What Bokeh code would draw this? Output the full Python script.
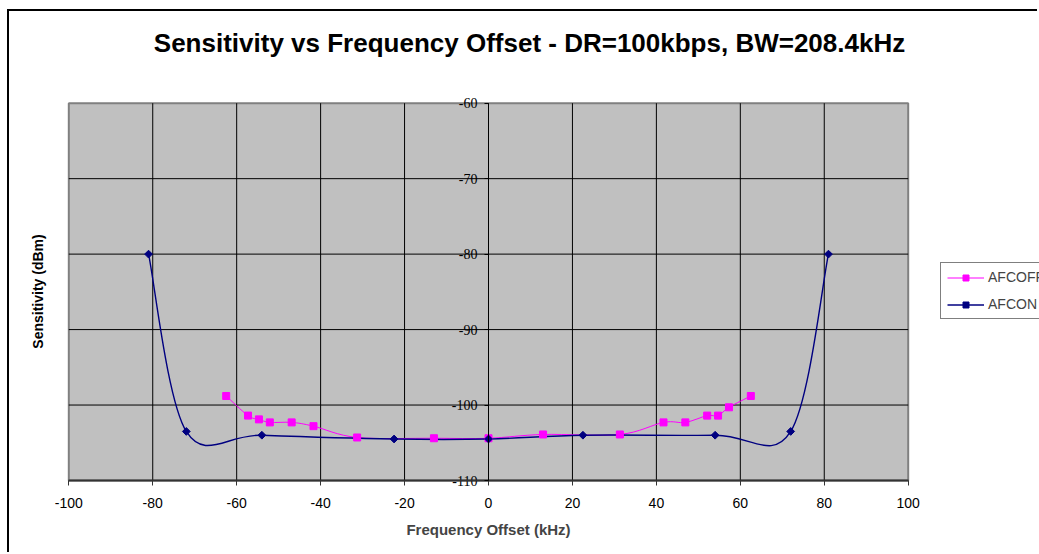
import numpy as np
from bokeh.plotting import figure
from bokeh.models import (FixedTicker, Legend, LegendItem, Label, Range1d,
                          ColumnDataSource)
from bokeh.embed import file_html
from bokeh.resources import INLINE

# ---- data ----
title_text = "Sensitivity vs Frequency Offset - DR=100kbps, BW=208.4kHz"
x_label = "Frequency Offset (kHz)"
y_label = "Sensitivity (dBm)"

afcoff_x = [-62.5, -57.3, -54.7, -52.1, -46.9, -41.7, -31.3, -13.0, 0.0,
            13.0, 31.3, 41.7, 46.9, 52.1, 54.7, 57.3, 62.5]
afcoff_y = [-98.8, -101.4, -101.9, -102.3, -102.3, -102.8, -104.3, -104.4, -104.4,
            -103.9, -103.9, -102.3, -102.3, -101.4, -101.4, -100.3, -98.8]

afcon_x = [-81.0, -72.0, -54.0, -22.5, 0.0, 22.5, 54.0, 72.0, 81.0]
afcon_y = [-80.0, -103.5, -104.0, -104.5, -104.5, -104.0, -104.0, -103.5, -80.0]

x_ticks = [-100, -80, -60, -40, -20, 0, 20, 40, 60, 80, 100]
y_ticks = [-110, -100, -90, -80, -70, -60]


def smooth_source(xs, ys):
    """Bezier segments (Excel-like smoothed line) through the data points."""
    xs = np.asarray(xs, float)
    ys = np.asarray(ys, float)
    n = len(xs)
    px = np.concatenate([[xs[0]], xs, [xs[-1]]])
    py = np.concatenate([[ys[0]], ys, [ys[-1]]])
    return ColumnDataSource(dict(
        x0=xs[:-1], y0=ys[:-1], x1=xs[1:], y1=ys[1:],
        cx0=xs[:-1] + (px[2:n + 1] - px[0:n - 1]) / 6.0,
        cy0=ys[:-1] + (py[2:n + 1] - py[0:n - 1]) / 6.0,
        cx1=xs[1:] - (px[3:n + 2] - px[1:n]) / 6.0,
        cy1=ys[1:] - (py[3:n + 2] - py[1:n]) / 6.0,
    ))


FONT = "Liberation Sans"
W, H = 1030, 543

# plot-area placement inside the canvas (pixels)
PA_LEFT, PA_RIGHT, PA_TOP, PA_BOTTOM = 59.3, 898.7, 91.7, 469.0
x0d, x1d = x_ticks[0], x_ticks[-1]
y0d, y1d = y_ticks[0], y_ticks[-1]
sx = (PA_RIGHT - PA_LEFT) / (x1d - x0d)
sy = (PA_BOTTOM - PA_TOP) / (y1d - y0d)
x_range = Range1d(x0d - PA_LEFT / sx, x1d + (W - PA_RIGHT) / sx)
y_range = Range1d(y0d - (H - PA_BOTTOM) / sy, y1d + PA_TOP / sy)

p = figure(width=W, height=H, output_backend="svg", toolbar_location=None,
           x_range=x_range, y_range=y_range,
           min_border_left=0, min_border_right=0,
           min_border_top=0, min_border_bottom=0)
p.styles = {"margin-top": "9px", "margin-left": "7px",
            "border-left": "2px solid black", "border-top": "2px solid black"}

p.background_fill_color = "white"
p.border_fill_color = "white"
p.outline_line_color = None
p.grid.visible = False

# grey plot area
p.quad(left=[x0d], right=[x1d], bottom=[y0d], top=[y1d],
       fill_color="#C0C0C0", line_color="#808080", line_width=2)

# grid lines at interior ticks, limited to the plot area
xg = x_ticks[1:-1]
yg = y_ticks[1:-1]
p.segment(x0=xg, y0=[y0d] * len(xg), x1=xg, y1=[y1d] * len(xg),
          line_color="black", line_width=1)
p.segment(x0=[x0d] * len(yg), y0=yg, x1=[x1d] * len(yg), y1=yg,
          line_color="black", line_width=1)

# x axis along y = -110
xa = p.xaxis[0]
xa.fixed_location = y0d
xa.bounds = (x0d, x1d)
xa.ticker = FixedTicker(ticks=x_ticks)
xa.major_label_overrides = {t: str(t) for t in x_ticks}
xa.minor_tick_line_color = None
xa.axis_line_color = "#333333"
xa.axis_line_width = 2
xa.major_tick_line_color = "#333333"
xa.major_tick_out = 5
xa.major_tick_in = 0
xa.major_label_standoff = 12
xa.major_label_text_font = FONT
xa.major_label_text_font_size = "14px"
xa.major_label_text_color = "black"
xa.axis_label = x_label
xa.axis_label_text_font = FONT
xa.axis_label_text_font_size = "15px"
xa.axis_label_text_font_style = "bold"
xa.axis_label_standoff = 10

# y axis crossing at x = 0 (labels drawn as text next to it)
ya = p.yaxis[0]
ya.fixed_location = 0
ya.bounds = (y0d, y1d)
ya.ticker = FixedTicker(ticks=y_ticks)
ya.major_label_overrides = {t: "" for t in y_ticks}
ya.minor_tick_line_color = None
ya.axis_line_color = "black"
ya.axis_line_width = 1
ya.major_tick_line_color = "black"
ya.major_tick_out = 4
ya.major_tick_in = 0

p.text(x=[0] * len(y_ticks), y=y_ticks, text=[str(t) for t in y_ticks],
       x_offset=-11, text_align="right", text_baseline="middle",
       text_font=FONT, text_font_size="14px", text_color="black")

# series
off_src = smooth_source(afcoff_x, afcoff_y)
on_src = smooth_source(afcon_x, afcon_y)

off_line = p.bezier(x0="x0", y0="y0", x1="x1", y1="y1", cx0="cx0", cy0="cy0",
                    cx1="cx1", cy1="cy1", source=off_src,
                    line_color="#FF00FF", line_width=1)
on_line = p.bezier(x0="x0", y0="y0", x1="x1", y1="y1", cx0="cx0", cy0="cy0",
                   cx1="cx1", cy1="cy1", source=on_src,
                   line_color="#000080", line_width=1.4)
off_pts = p.scatter(afcoff_x, afcoff_y, marker="square", size=7,
                    fill_color="#FF00FF", line_color="#FF00FF")
on_pts = p.scatter(afcon_x, afcon_y, marker="square", angle=np.pi / 4, size=5.5,
                   fill_color="#000080", line_color="#000080")

legend = Legend(items=[LegendItem(label="AFCOFF", renderers=[off_line, off_pts]),
                       LegendItem(label="AFCON", renderers=[on_line, on_pts])],
                location=(931, H - 308), orientation="vertical",
                border_line_color="black", border_line_width=1,
                background_fill_color="white", background_fill_alpha=1.0,
                label_text_font=FONT, label_text_font_size="14px",
                glyph_width=37, glyph_height=15, label_height=15,
                spacing=11, padding=6, margin=0, label_standoff=4)
p.add_layout(legend)

# chart title and y-axis title
p.add_layout(Label(x=520, y=H - 31.5, x_units="screen", y_units="screen",
                   text=title_text, text_align="center", text_baseline="middle",
                   text_font=FONT, text_font_size="26px", text_font_style="bold",
                   text_color="black"))
p.add_layout(Label(x=28.5, y=H - 280, x_units="screen", y_units="screen",
                   text=y_label, angle=np.pi / 2, text_align="center",
                   text_baseline="middle", text_font=FONT, text_font_size="14px",
                   text_font_style="bold", text_color="black"))

open("out.html", "w").write(file_html(p, INLINE))
